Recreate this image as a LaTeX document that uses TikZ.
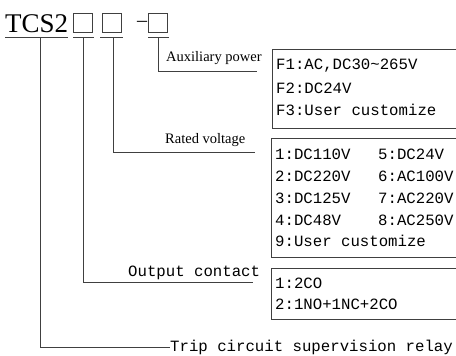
\documentclass[tikz,border=0pt]{standalone}
\usepackage{fontspec}
\setmainfont{Liberation Serif}
\setmonofont{Liberation Mono}
\usetikzlibrary{calc}

\tikzset{
  ln/.style={line width=0.8pt,black!75},
  sq/.style={draw,ln,minimum size=19pt,inner sep=0pt},
  code/.style={font=\fontsize{27}{30}\selectfont,inner sep=0pt,anchor=base west},
  lbl/.style={font=\fontsize{14.5}{16}\selectfont,inner sep=0pt,anchor=base west},
  opt/.style={font=\ttfamily\fontsize{15.7}{18}\selectfont,inner sep=0pt,anchor=base west},
}

\begin{document}
\begin{tikzpicture}[x=1pt,y=-1pt]
  \useasboundingbox (0,0) rectangle (456,356);
  \clip (0,0) rectangle (456,356);

  % type code
  \node[code] (tcs) at (5,32) {TCS2};
  \node[sq] (s1) at (82.5,22.5) {};
  \node[sq] (s2) at (111.5,22.5) {};
  \node[code,font=\fontsize{20}{22}\selectfont,anchor=base] (dash) at (142,27) {–};
  \node[sq] (s3) at (158,22.5) {};

  % underlines
  \draw[ln] (5,37) -- (68,37);
  \draw[ln] (73,37) -- (94,37);
  \draw[ln] (100,37) -- (123,37);
  \draw[ln] (148,37) -- (169,37);
  \coordinate (u0) at (40,37);
  \coordinate (u1) at (83,37);
  \coordinate (u2) at (113,37);
  \coordinate (u3) at (158,37);

  % labels
  \node[lbl] (aux) at (166,61) {Auxiliary power};
  \node[lbl] (rated) at (165,143) {Rated voltage};
  \node[opt] (out) at (128,276) {Output contact};
  \node[opt,anchor=west] (trip) at (170,347) {Trip circuit supervision relay};
  \coordinate (auxend) at (257,71);
  \coordinate (ratedend) at (255,152);
  \coordinate (outend) at (253,282);

  % connectors
  \draw[ln] (u3) |- (auxend);
  \draw[ln] (u2) |- (ratedend);
  \draw[ln] (u1) |- (outend);
  \draw[ln] (u0) |- (trip.west);

  % option boxes
  \draw[ln] (272,49) rectangle (480,128);
  \node[opt] (f1) at (276,70) {F1:AC,DC30\~{}265V};
  \node[opt] (f2) at (276,93) {F2:DC24V};
  \node[opt] (f3) at (276,115) {F3:User customize};

  \draw[ln] (271,138) rectangle (480,257);
  \node[opt] (v1) at (275,159) {1:DC110V};
  \node[opt] (v2) at (275,181) {2:DC220V};
  \node[opt] (v3) at (275,203) {3:DC125V};
  \node[opt] (v4) at (275,225) {4:DC48V};
  \node[opt] (v9) at (275,246) {9:User customize};
  \node[opt] (v5) at (378,159) {5:DC24V};
  \node[opt] (v6) at (378,181) {6:AC100V};
  \node[opt] (v7) at (378,203) {7:AC220V};
  \node[opt] (v8) at (378,225) {8:AC250V};

  \draw[ln] (271,268) rectangle (480,319);
  \node[opt] (c1) at (275,288) {1:2CO};
  \node[opt] (c2) at (275,309) {2:1NO+1NC+2CO};
\end{tikzpicture}
\end{document}
